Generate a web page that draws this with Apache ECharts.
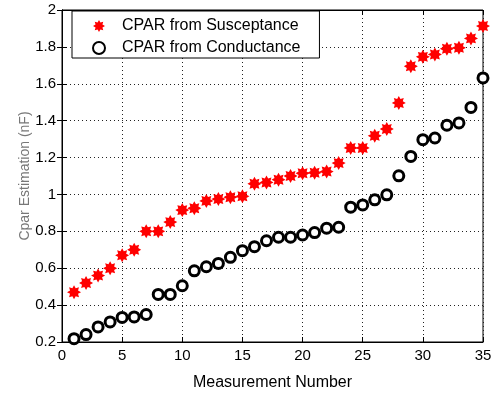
<!DOCTYPE html>
<html>
<head>
<meta charset="utf-8">
<script src="https://cdn.jsdelivr.net/npm/echarts@6/dist/echarts.min.js"></script>
<style>
  html, body { margin: 0; padding: 0; background: #fff; }
  #chart { width: 495px; height: 399px; }
</style>
</head>
<body>
<div id="chart"></div>
<script>
// measurement numbers 1..35
var measurement = [1, 2, 3, 4, 5, 6, 7, 8, 9, 10, 11, 12, 13, 14, 15, 16, 17, 18,
  19, 20, 21, 22, 23, 24, 25, 26, 27, 28, 29, 30, 31, 32, 33, 34, 35];
// CPAR from Susceptance (nF)
var susceptance = [0.47, 0.52, 0.56, 0.60, 0.67, 0.70, 0.80, 0.80, 0.85, 0.915,
  0.925, 0.965, 0.975, 0.985, 0.99, 1.058, 1.065, 1.08, 1.10, 1.115, 1.118, 1.124,
  1.17, 1.252, 1.252, 1.318, 1.355, 1.496, 1.695, 1.746, 1.759, 1.79, 1.795, 1.846, 1.913];
// CPAR from Conductance (nF)
var conductance = [0.218, 0.24, 0.282, 0.309, 0.333, 0.336, 0.349, 0.458, 0.458, 0.505,
  0.586, 0.608, 0.626, 0.659, 0.695, 0.717, 0.749, 0.768, 0.768, 0.78, 0.793, 0.817,
  0.822, 0.931, 0.943, 0.971, 0.998, 1.101, 1.206, 1.297, 1.306, 1.375, 1.388, 1.472, 1.632];

var seriesNames = ['CPAR from Susceptance', 'CPAR from Conductance'];

function pairs(ys) {
  return measurement.map(function (x, i) { return [x, ys[i]]; });
}

// 8 armiges Sternchen wie der Matlab-Marker '*'
function starPath() {
  var pts = [];
  for (var i = 0; i < 16; i++) {
    var r = i % 2 === 0 ? 10 : 6.2;
    var a = Math.PI / 2 + i * Math.PI / 8;
    pts.push((10 + r * Math.cos(a)).toFixed(2) + ',' + (10 - r * Math.sin(a)).toFixed(2));
  }
  return 'path://M' + pts.join('L') + 'Z';
}

var font = 'Liberation Sans, Arial, Helvetica, sans-serif';
var chart = echarts.init(document.getElementById('chart'));

var tickStyle = { show: true, inside: true, length: 5, lineStyle: { color: '#000' } };
var gridStyle = { show: true, lineStyle: { color: '#222', type: [1, 3], width: 1 } };

chart.setOption({
  backgroundColor: '#fff',
  animation: false,
  grid: { left: 62, right: 12, top: 10, bottom: 57, show: true, borderColor: '#000', borderWidth: 1 },
  legend: {
    data: seriesNames,
    orient: 'vertical',
    left: 72,
    top: 11,
    padding: [7, 19, 2, 20],
    itemWidth: 12,
    itemHeight: 12,
    itemGap: 6,
    backgroundColor: '#fff',
    borderColor: '#000',
    borderWidth: 1,
    textStyle: { fontFamily: font, fontSize: 16, color: '#000', padding: [0, 0, 0, 12] }
  },
  xAxis: [{
    type: 'value', min: 0, max: 35, interval: 5,
    name: 'Measurement Number', nameLocation: 'middle', nameGap: 33,
    nameTextStyle: { fontFamily: font, fontSize: 16, color: '#000' },
    axisLine: { show: true, lineStyle: { color: '#000' } },
    axisTick: tickStyle,
    axisLabel: { fontFamily: font, fontSize: 15, color: '#000', margin: 6 },
    splitLine: gridStyle
  }, {
    type: 'value', min: 0, max: 35, interval: 5, position: 'top',
    axisLine: { show: true, lineStyle: { color: '#000' } },
    axisTick: tickStyle, axisLabel: { show: false }, splitLine: { show: false }
  }],
  yAxis: [{
    type: 'value', min: 0.2, max: 2, interval: 0.2,
    name: 'Cpar Estimation (nF)', nameLocation: 'middle', nameGap: 30,
    nameMoveOverlap: false,
    nameTextStyle: { fontFamily: font, fontSize: 14, color: '#777' },
    axisLine: { show: true, lineStyle: { color: '#000' } },
    axisTick: tickStyle,
    axisLabel: {
      fontFamily: font, fontSize: 15, color: '#000', margin: 6,
      formatter: function (v) { return String(+v.toFixed(1)); }
    },
    splitLine: gridStyle
  }, {
    type: 'value', min: 0.2, max: 2, interval: 0.2, position: 'right',
    axisLine: { show: true, lineStyle: { color: '#000' } },
    axisTick: tickStyle, axisLabel: { show: false }, splitLine: { show: false }
  }],
  series: [{
    name: seriesNames[0],
    type: 'scatter',
    data: pairs(susceptance),
    symbol: starPath(),
    symbolSize: 14,
    itemStyle: { color: '#ff0000', opacity: 1 },
    z: 3
  }, {
    name: seriesNames[1],
    type: 'scatter',
    data: pairs(conductance),
    symbol: 'circle',
    symbolSize: 10,
    itemStyle: { color: '#fff', borderColor: '#000', borderWidth: 3, opacity: 1 },
    z: 3
  }]
});
</script>
</body>
</html>
